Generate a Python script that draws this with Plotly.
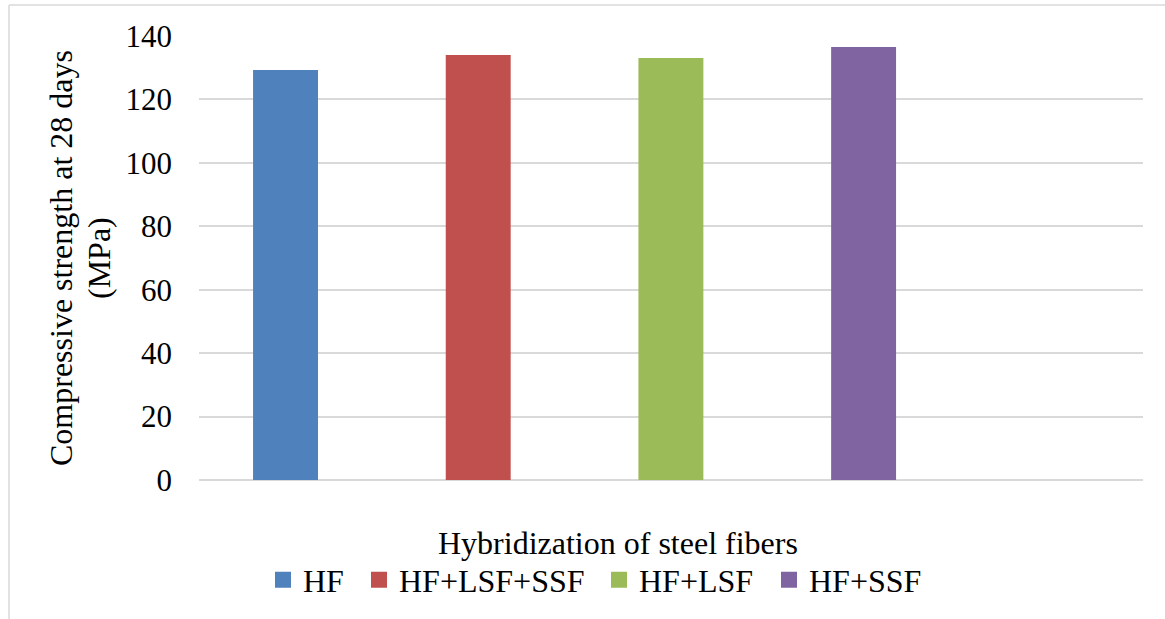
import plotly.graph_objects as go

# Compressive strength at 28 days for each steel-fiber hybridization
series_names = ["HF", "HF+LSF+SSF", "HF+LSF", "HF+SSF"]
strength_mpa = [129.3, 134.0, 133.1, 136.5]
series_colors = ["#4F81BD", "#C0504D", "#9BBB59", "#8064A2"]
y_ticks = [0, 20, 40, 60, 80, 100, 120, 140]

x_title = "Hybridization of steel fibers"
y_title_lines = ["Compressive strength at 28 days", "(MPa)"]

FONT = "Liberation Serif"

W, H = 1165, 619
L, R, T, B = 199, 22, 36, 139
plot_w = W - L - R
plot_h = H - T - B


def px_x(px):
    return (px - L) / plot_w


def px_y(py):
    return (H - B - py) / plot_h


fig = go.Figure()

# one bar per series, each in its own slot
for i, (name, val, col) in enumerate(zip(series_names, strength_mpa, series_colors)):
    fig.add_trace(go.Bar(
        x=[i], y=[val], name=name, width=0.337,
        marker=dict(color=col, line=dict(width=0)),
        showlegend=False, legendgroup=name,
    ))

# legend entries with larger square swatches
legend_widths = [51, 195, 125, 115]
for name, col, lw in zip(series_names, series_colors, legend_widths):
    fig.add_trace(go.Scatter(
        x=[None], y=[None], mode="markers", name=name, legendgroup=name,
        marker=dict(symbol="square", size=16, color=col, line=dict(width=0)),
        legendwidth=lw, showlegend=True,
    ))

# rotated two-line y-axis title, one annotation per line
y_title_annotations = [
    dict(text=txt, xref="paper", yref="paper",
         x=px_x(cx), y=px_y(258), xanchor="center", yanchor="middle",
         textangle=-90, showarrow=False,
         font=dict(family=FONT, size=32, color="black"))
    for txt, cx in zip(y_title_lines, [61, 99])
]

fig.update_layout(
    width=W, height=H,
    margin=dict(l=L, r=R, t=T, b=B, autoexpand=False),
    paper_bgcolor="white", plot_bgcolor="white",
    font=dict(family=FONT, size=31, color="black"),
    showlegend=True,
    legend=dict(
        orientation="h", x=px_x(263), xanchor="left",
        y=px_y(580), yanchor="middle",
        font=dict(family=FONT, size=32, color="black"),
        bgcolor="rgba(0,0,0,0)", itemclick=False,
    ),
    xaxis=dict(
        range=[-0.449, 4.45], showticklabels=False, showgrid=False,
        zeroline=False, showline=False, ticks="", fixedrange=True,
    ),
    yaxis=dict(
        range=[0, 140], tickvals=y_ticks, ticktext=[str(v) for v in y_ticks],
        showgrid=True, gridcolor="#D9D9D9", gridwidth=2,
        zeroline=True, zerolinecolor="#D9D9D9", zerolinewidth=2,
        showline=False, ticks="", ticklabelstandoff=26,
        tickfont=dict(family=FONT, size=31, color="black"),
        fixedrange=True,
    ),
    annotations=y_title_annotations + [
        dict(text=x_title, xref="paper", yref="paper",
             x=px_x(618), y=px_y(543), xanchor="center", yanchor="middle",
             showarrow=False,
             font=dict(family=FONT, size=32, color="black")),
    ],
    shapes=[
        # chart frame (top and left edges)
        dict(type="line", xref="paper", yref="paper",
             x0=px_x(9), x1=px_x(1166), y0=px_y(5), y1=px_y(5),
             line=dict(color="#D9D9D9", width=1.5)),
        dict(type="line", xref="paper", yref="paper",
             x0=px_x(9), x1=px_x(9), y0=px_y(5), y1=px_y(620),
             line=dict(color="#D9D9D9", width=1.5)),
    ],
)

fig.write_html("out.html")
